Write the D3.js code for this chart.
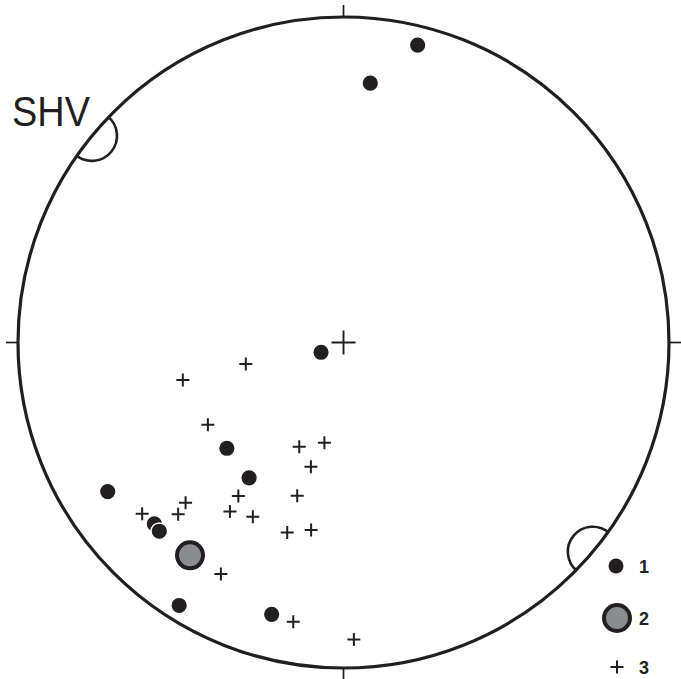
<!DOCTYPE html>
<html>
<head>
<meta charset="utf-8">
<script src="https://cdn.jsdelivr.net/npm/d3@7"></script>
<style>
  html, body { margin: 0; padding: 0; background: #fff; }
  svg { display: block; }
</style>
</head>
<body>
<svg id="net" width="681" height="679"></svg>
<script>
// Lower-hemisphere equal-area (Schmidt) net. Orientations as [trend, plunge] in degrees.

// group 1: filled black dots
const group1Trend  = [14.0, 5.9, 246.5, 227.8, 214.9, 237.7, 226.2, 224.3, 212.0, 194.8];
const group1Plunge = [6.5, 21.0, 83.9, 50.0, 48.0, 15.4, 20.6, 20.1, 5.3, 14.7];

// group 2: grey circle
const group2Trend  = [215.8];
const group2Plunge = [20.5];

// group 3: crosses
const group3Trend  = [257.6, 256.9, 238.8, 203.0, 190.8, 194.7, 196.8, 214.4, 224.6,
                      223.9, 229.6, 213.9, 207.5, 196.5, 189.8, 207.9, 190.2, 178.0];
const group3Plunge = [64.9, 48.0, 49.7, 61.5, 64.4, 57.6, 49.3, 42.3, 31.5,
                      27.6, 19.9, 37.5, 39.5, 39.0, 41.2, 20.6, 13.9, 9.6];

// SHV (maximum horizontal stress) azimuths
const shvAzimuth = [309.4, 130.0];
const shvLabel = "SHV";

const legendLabels = ["1", "2", "3"];

const ink = "#231f20";
const cx = 343.5, cy = 342.5, R = 325.5;

const svg = d3.select("#net");
const g = svg.append("g").attr("transform", `translate(${cx},${cy})`);

// angular scale: trend in degrees -> radians; radial scale: equal-area distance -> px
const angle = d3.scaleLinear().domain([0, 360]).range([0, 2 * Math.PI]);
const radius = d3.scaleLinear().domain([0, 1]).range([0, R]);
const eqArea = p => Math.SQRT2 * Math.sin((90 - p) / 2 * Math.PI / 180);
const project = (t, p) => d3.pointRadial(angle(t), radius(eqArea(p)));

const zip = (ts, ps) => ts.map((t, i) => ({ t, p: ps[i] }));

// primitive circle
g.append("circle").attr("r", R)
  .attr("fill", "none").attr("stroke", ink).attr("stroke-width", 3.2);

// cardinal ticks
g.selectAll(".tick").data([0, 90, 180, 270]).join("line")
  .attr("class", "tick")
  .attr("x1", d => d3.pointRadial(angle(d), R)[0])
  .attr("y1", d => d3.pointRadial(angle(d), R)[1])
  .attr("x2", d => d3.pointRadial(angle(d), R + 12)[0])
  .attr("y2", d => d3.pointRadial(angle(d), R + 12)[1])
  .attr("stroke", ink).attr("stroke-width", 1.7);

// centre cross
const cc = 12;
g.append("path")
  .attr("d", `M${-cc},0H${cc}M0,${-cc}V${cc}`)
  .attr("stroke", ink).attr("stroke-width", 1.9).attr("fill", "none");

// SHV half-circle markers on the primitive
const rs = 25;
shvAzimuth.forEach(a => {
  const [x, y] = d3.pointRadial(angle(a), R);
  const p = d3.path();
  const a0 = (a) * Math.PI / 180;
  p.arc(x, y, rs, a0, a0 + Math.PI);
  g.append("path").attr("d", p.toString())
    .attr("fill", "none").attr("stroke", ink).attr("stroke-width", 2.6);
});

svg.append("text")
  .attr("x", 12).attr("y", 126)
  .attr("font-family", "Liberation Sans, Arial, sans-serif")
  .attr("font-size", 43)
  .attr("textLength", 78).attr("lengthAdjust", "spacingAndGlyphs")
  .attr("fill", ink)
  .text(shvLabel);

// crosses
const cs = 6.5;
const crossPath = `M${-cs},0H${cs}M0,${-cs}V${cs}`;
g.selectAll(".g3").data(zip(group3Trend, group3Plunge)).join("path")
  .attr("class", "g3")
  .attr("transform", d => `translate(${project(d.t, d.p)})`)
  .attr("d", crossPath)
  .attr("stroke", ink).attr("stroke-width", 2).attr("fill", "none");

// black dots
g.selectAll(".g1").data(zip(group1Trend, group1Plunge)).join("circle")
  .attr("class", "g1")
  .attr("cx", d => project(d.t, d.p)[0])
  .attr("cy", d => project(d.t, d.p)[1])
  .attr("r", 8.3)
  .attr("fill", ink).attr("stroke", "#fff").attr("stroke-width", 1.4);

// grey circle
g.selectAll(".g2").data(zip(group2Trend, group2Plunge)).join("circle")
  .attr("class", "g2")
  .attr("cx", d => project(d.t, d.p)[0])
  .attr("cy", d => project(d.t, d.p)[1])
  .attr("r", 13)
  .attr("fill", "#8b8c8f").attr("stroke", ink).attr("stroke-width", 4);

// legend
const legY = [566, 618, 667];
const leg = svg.append("g");
leg.append("circle").attr("cx", 616).attr("cy", legY[0]).attr("r", 7.5).attr("fill", ink);
leg.append("circle").attr("cx", 617).attr("cy", legY[1]).attr("r", 13)
  .attr("fill", "#8b8c8f").attr("stroke", ink).attr("stroke-width", 4);
leg.append("path").attr("transform", `translate(617,${legY[2]})`).attr("d", crossPath)
  .attr("stroke", ink).attr("stroke-width", 2).attr("fill", "none");
leg.selectAll("text").data(legendLabels).join("text")
  .attr("x", 639).attr("y", (d, i) => legY[i] + 6.5)
  .attr("font-family", "Liberation Sans, Arial, sans-serif")
  .attr("font-weight", "bold").attr("font-size", 18)
  .attr("fill", ink)
  .text(d => d);
</script>
</body>
</html>
